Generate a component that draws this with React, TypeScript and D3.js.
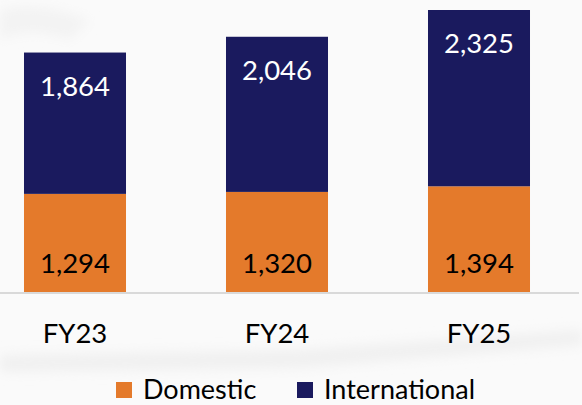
import React from "react";
import * as d3 from "d3";

const categories = ["FY23", "FY24", "FY25"];
const domestic = [1294, 1320, 1394];
const international = [1864, 2046, 2325];
const seriesNames = ["Domestic", "International"];

const W = 582;
const H = 405;
const ORANGE = "#E47A2B";
const NAVY = "#1A1A5E";
const FONT = "Lato, 'Open Sans', sans-serif";

export default function App() {
  const x = d3
    .scaleBand<string>()
    .domain(categories)
    .range([-26, 580])
    .paddingInner(0.495)
    .paddingOuter(0.2475);
  const maxTotal = d3.max(categories.map((_, i) => domestic[i] + international[i])) as number;
  const y = d3.scaleLinear().domain([0, maxTotal]).range([292, 10]);
  const fmt = d3.format(",");

  const rows = categories.map((c, i) => ({ c, Domestic: domestic[i], International: international[i] }));
  const stacked = d3.stack<any>().keys(seriesNames)(rows);
  const colors = [ORANGE, NAVY];

  return (
    <svg width={W} height={H} style={{ position: "absolute", left: 0, top: 0 }} fontFamily={FONT}>
      <defs>
        <filter id="blur" x="-20%" y="-50%" width="140%" height="200%">
          <feGaussianBlur stdDeviation="6" />
        </filter>
      </defs>
      <rect width={W} height={H} fill="#fafafa" />
      <path d="M0,10 Q40,0 90,20 L70,40 Q30,25 0,40 Z" fill="#f3f3f3" filter="url(#blur)" />
      <path d="M0,355 L300,350 L582,330 L582,345 L300,368 L0,372 Z" fill="#f0f0f0" filter="url(#blur)" />
      {stacked.map((s, si) =>
        s.map((d, i) => (
          <rect
            key={`${si}-${i}`}
            x={x(categories[i])}
            width={x.bandwidth()}
            y={y(d[1])}
            height={y(d[0]) - y(d[1])}
            fill={colors[si]}
          />
        ))
      )}
      <line x1={0} x2={579} y1={293} y2={293} stroke="#d9d9d9" strokeWidth={2} />
      {categories.map((c, i) => {
        const cx = (x(c) as number) + x.bandwidth() / 2;
        return (
          <g key={c} fontSize={27.5} textAnchor="middle">
            <text x={cx} y={y(domestic[i] + international[i]) + 43} fill="#ffffff">
              {fmt(international[i])}
            </text>
            <text x={cx} y={y(0) - 19} fill="#000000">
              {fmt(domestic[i])}
            </text>
            <text x={cx} y={343} fill="#000000">
              {c}
            </text>
          </g>
        );
      })}
      <g fontSize={27}>
        <rect x={116} y={382} width={16} height={16} fill={ORANGE} />
        <text x={143} y={398.5} fill="#000">{seriesNames[0]}</text>
        <rect x={297} y={382} width={16} height={16} fill={NAVY} />
        <text x={324} y={398.5} fill="#000">{seriesNames[1]}</text>
      </g>
    </svg>
  );
}
